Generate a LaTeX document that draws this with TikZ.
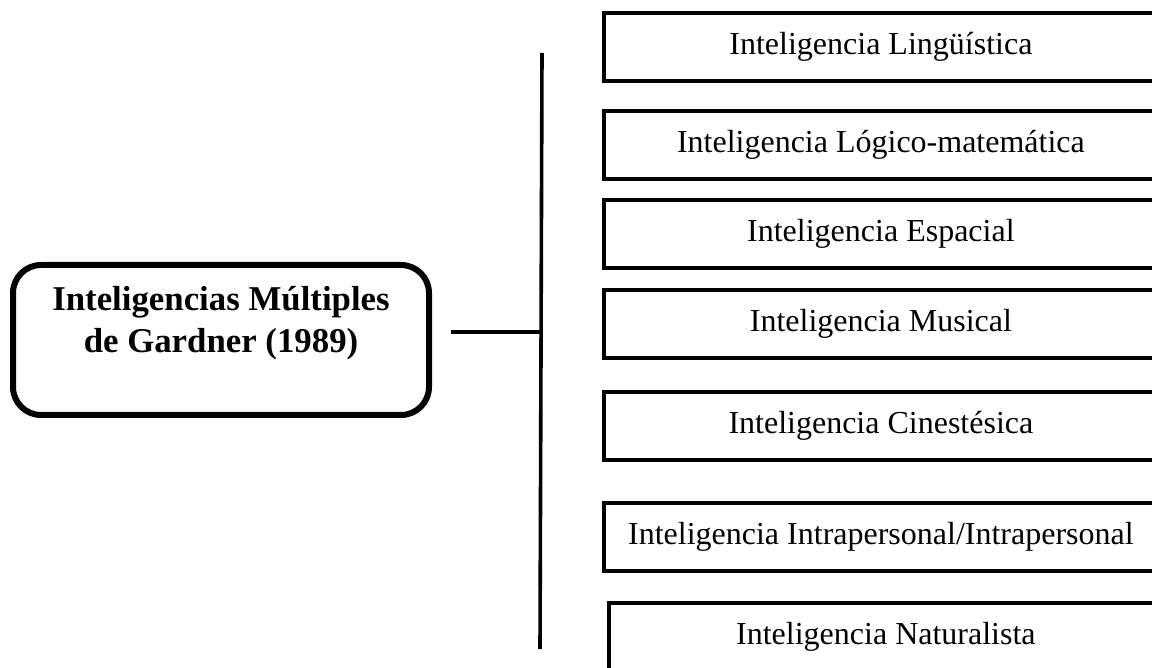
\documentclass[tikz,border=0pt]{standalone}
\usepackage{fontspec}
\setmainfont{Liberation Serif}
\begin{document}
\begin{tikzpicture}[x=1pt,y=-1pt,
  itembox/.style={draw=black, line width=3.8pt, rectangle, anchor=west,
    minimum width=554pt, minimum height=68pt, inner sep=0pt,
    font=\fontsize{32}{38}\selectfont},
  mainbox/.style={draw=black, line width=6pt, rounded corners=28pt,
    minimum width=416pt, minimum height=150pt, inner sep=0pt,
    font=\fontsize{34.8}{43}\selectfont\bfseries, text height=40pt, text depth=14pt},
  conn/.style={draw=black, line width=3.6pt}]
\useasboundingbox (0,0) rectangle (1152,668);
\clip (0,0) rectangle (1152,668);
\node[mainbox] (main) at (221,340)
  {\begin{tabular}[b]{@{}c@{}}Inteligencias Múltiples\\de Gardner (1989)\end{tabular}};
\node[itembox] (b1) at (602,47)  {Inteligencia Lingüística};
\node[itembox] (b2) at (602,145) {Inteligencia Lógico-matemática};
\node[itembox] (b3) at (602,234) {Inteligencia Espacial};
\node[itembox] (b4) at (602,324) {Inteligencia Musical};
\node[itembox] (b5) at (602,426) {Inteligencia Cinestésica};
\node[itembox] (b6) at (602,537) {Inteligencia Intrapersonal/Intrapersonal};
\node[itembox] (b7) at (607,637) {Inteligencia Naturalista};
\coordinate (busT) at (542,53);
\coordinate (busB) at (540,649);
\coordinate (junc) at (542,332);
\coordinate (stub) at (451,332);
\draw[conn] (busT) -- (busB);
\draw[conn] (stub) -- (junc);
\end{tikzpicture}
\end{document}
